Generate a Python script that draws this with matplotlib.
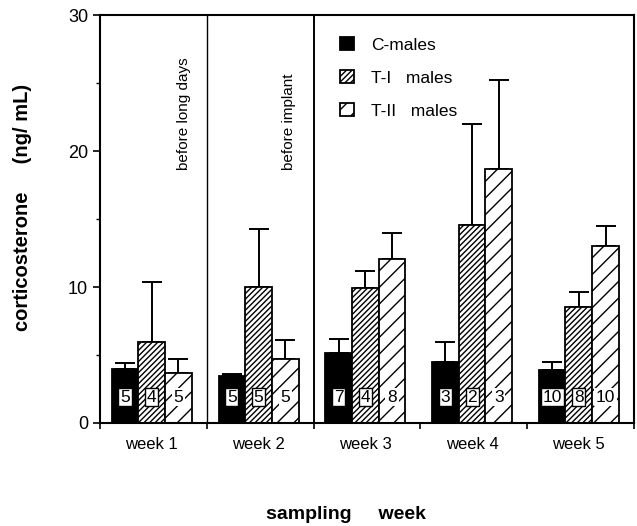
import numpy as np
import matplotlib.pyplot as plt

plt.rcParams['font.family'] = ['Liberation Sans', 'DejaVu Sans']
plt.rcParams['hatch.linewidth'] = 1.0

weeks = ['week 1', 'week 2', 'week 3', 'week 4', 'week 5']
groups = ['C-males', 'T-I   males', 'T-II   males']
c_mean = [3.95, 3.45, 5.15, 4.5, 3.9]
c_err = [0.45, 0.15, 1.05, 1.45, 0.6]
t1_mean = [5.95, 10.0, 9.9, 14.6, 8.5]
t1_err = [4.4, 4.3, 1.3, 7.4, 1.1]
t2_mean = [3.7, 4.7, 12.05, 18.7, 13.0]
t2_err = [1.0, 1.4, 1.95, 6.5, 1.5]
c_n = ['5', '5', '7', '3', '10']
t1_n = ['4', '5', '4', '2', '8']
t2_n = ['5', '5', '8', '3', '10']

fig = plt.figure(figsize=(6.37, 5.26), dpi=100)
ax = fig.add_axes([0.157, 0.196, 0.838, 0.775])

x = np.arange(len(weeks)) + 0.485
w = 0.25
series = [(c_mean, c_err, c_n, 'black', '', True),
          (t1_mean, t1_err, t1_n, 'white', '//////', True),
          (t2_mean, t2_err, t2_n, 'white', '//', False)]
for k, (m, e, n, fc, hatch, edge) in enumerate(series):
    xs = x + (k - 1) * w
    ax.bar(xs, m, w, color=fc, edgecolor='black', hatch=hatch, linewidth=1.3,
           label=groups[k], zorder=2)
    ax.errorbar(xs, m, yerr=[np.zeros(len(e)), e], fmt='none', ecolor='black',
                elinewidth=1.4, capsize=7, capthick=1.4, zorder=1)
    for xi, lab in zip(xs, n):
        ax.text(xi, 1.9, lab, ha='center', va='center', fontsize=12.5, zorder=3,
                bbox=dict(boxstyle='square,pad=0.1', fc='white',
                          ec='black' if edge else 'none', lw=1.0))

ax.axvline(1, color='black', lw=1.0, zorder=0)
ax.axvline(2, color='black', lw=1.4, zorder=0)
ax.text(0.79, 18.6, 'before long days', rotation=90, ha='center', va='bottom', fontsize=11)
ax.text(1.77, 18.6, 'before implant', rotation=90, ha='center', va='bottom', fontsize=11)

ax.set_xlim(0, 5)
ax.set_ylim(0, 30)
ax.set_yticks([0, 10, 20, 30])
ax.set_yticks([5, 15, 25], minor=True)
ax.set_xticks(np.arange(6))
ax.set_xticklabels([])
ax.set_xticks(x, minor=True)
ax.set_xticklabels(weeks, minor=True)
ax.tick_params(axis='x', which='minor', length=0, pad=10, labelsize=12)
ax.tick_params(axis='x', which='major', length=4, width=1.2)
ax.tick_params(axis='y', which='major', length=5, width=1.2, labelsize=13)
ax.tick_params(axis='y', which='minor', length=3, width=1.0)
for s in ax.spines.values():
    s.set_linewidth(1.5)

fig.text(0.036, 0.606, 'corticosterone     (ng/ mL)', rotation=90, ha='center',
         va='center', fontsize=14.5, fontweight='bold')
fig.text(0.543, 0.021, 'sampling     week', ha='center', va='center',
         fontsize=14, fontweight='bold')

ax.legend(loc='upper left', bbox_to_anchor=(0.42, 0.985), frameon=False,
          handlelength=0.8, handleheight=0.8, handletextpad=1.0,
          labelspacing=1.0, fontsize=12.5)

fig.savefig('out.png', dpi=100)
